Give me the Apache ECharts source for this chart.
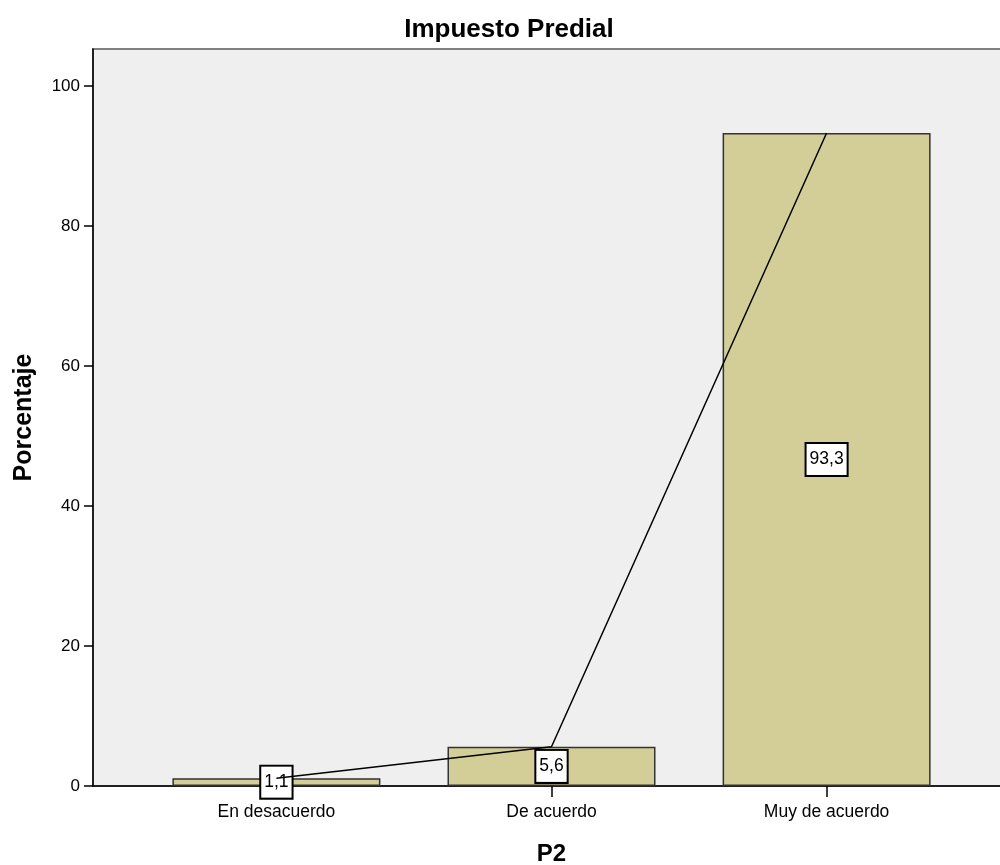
<!DOCTYPE html>
<html>
<head>
<meta charset="utf-8">
<script src="https://cdn.jsdelivr.net/npm/echarts@6/dist/echarts.min.js"></script>
<style>html,body{margin:0;padding:0;background:#fff}#c{width:1000px;height:865px}</style>
</head>
<body>
<div id="c"></div>
<script>
const categories = ['En desacuerdo', 'De acuerdo', 'Muy de acuerdo'];
const positions = [1, 2, 3];
const percentages = [1.1, 5.6, 93.3];
const yTicks = [0, 20, 40, 60, 80, 100];

const pts = positions.map((p, i) => [p, percentages[i]]);
const FONT = "'Liberation Sans', Arial, sans-serif";

const chart = echarts.init(document.getElementById('c'), null, {renderer: 'canvas'});
chart.setOption({
  animation: false,
  backgroundColor: '#ffffff',
  title: {
    text: 'Impuesto Predial',
    left: 504, top: 12, textAlign: 'center',
    textStyle: {fontFamily: FONT, fontSize: 26, fontWeight: 'bold', color: '#000'}
  },
  grid: {
    left: 93, top: 49, right: -10, bottom: 79,
    outerBoundsMode: 'none', containLabel: false,
    show: true, backgroundColor: '#efefef', borderColor: '#808080', borderWidth: 2
  },
  xAxis: {
    type: 'value', min: 1 / 3, max: 11 / 3,
    name: 'P2', nameLocation: 'middle', nameGap: 56,
    nameTextStyle: {fontFamily: FONT, fontSize: 24, fontWeight: 'bold', color: '#000'},
    splitLine: {show: false},
    axisLine: {show: true, onZero: false, lineStyle: {color: '#000', width: 1.5}},
    axisTick: {show: true, customValues: positions, length: 11, lineStyle: {color: '#000', width: 1.5}},
    axisLabel: {
      customValues: positions, margin: 17,
      fontFamily: FONT, fontSize: 17.5, color: '#000',
      formatter: v => categories[Math.round(v) - 1] || ''
    }
  },
  yAxis: {
    type: 'value', min: 0, max: 105.3,
    name: 'Porcentaje', nameLocation: 'middle', nameRotate: 90, nameGap: 56,
    nameTextStyle: {fontFamily: FONT, fontSize: 25, fontWeight: 'bold', color: '#000'},
    splitLine: {show: false},
    axisLine: {show: true, lineStyle: {color: '#000', width: 1.5}},
    axisTick: {show: true, customValues: yTicks, length: 9, lineStyle: {color: '#000', width: 1.5}},
    axisLabel: {customValues: yTicks, margin: 13, fontFamily: FONT, fontSize: 17, color: '#000'}
  },
  series: [
    {
      type: 'bar', data: pts, barWidth: 208, z: 2,
      itemStyle: {color: '#d3ce98', borderColor: '#333333', borderWidth: 1.5},
      label: {
        show: true, position: 'inside',
        formatter: p => String(p.value[1]).replace('.', ','),
        fontFamily: FONT, fontSize: 17.5, color: '#000',
        backgroundColor: '#ffffff', borderColor: '#000', borderWidth: 2,
        padding: [7, 3, 6, 3]
      }
    },
    {
      type: 'line', data: pts, z: 3, symbol: 'none',
      lineStyle: {color: '#000', width: 1.5}
    }
  ]
});
</script>
</body>
</html>
